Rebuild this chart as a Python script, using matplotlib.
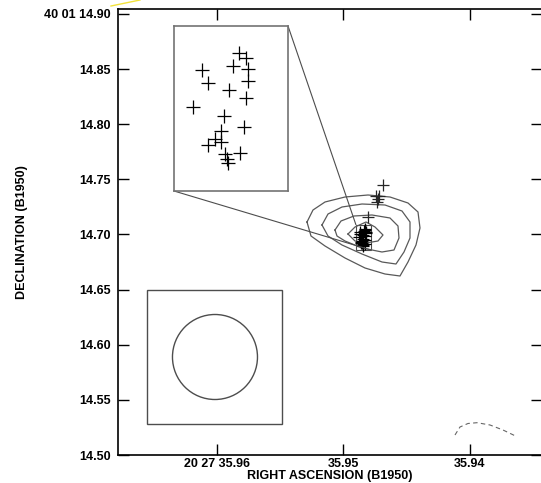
import numpy as np
import matplotlib.pyplot as plt
from matplotlib.patches import Ellipse, Rectangle
from matplotlib.lines import Line2D
from mpl_toolkits.axes_grid1.inset_locator import mark_inset

plt.rcParams['font.family'] = ['Liberation Sans', 'DejaVu Sans']

# maser spots in the central cluster (RA seconds, Dec arcsec, B1950)
spot_ra = [35.948337, 35.948268, 35.948399, 35.948247, 35.948717, 35.948661,
           35.948247, 35.948444, 35.948265, 35.948810, 35.948496, 35.948282,
           35.948520, 35.948586, 35.948523, 35.948655, 35.948330, 35.948479,
           35.948461, 35.948454]
spot_dec = [14.704844, 14.704156, 14.703138, 14.702643, 14.702546, 14.700799,
            14.701033, 14.699795, 14.698735, 14.697497, 14.696218, 14.694746,
            14.694154, 14.693053, 14.692682, 14.692324, 14.691224, 14.690990,
            14.690398, 14.689793]

# spots outside the zoomed box
out_ra = [35.946838, 35.947431, 35.947233, 35.947391, 35.947194, 35.948040]
out_dec = [14.74490, 14.73492, 14.73220, 14.72948, 14.73447, 14.71614]

# continuum contours
c1_ra = [35.952885, 35.952411, 35.951462, 35.949881, 35.948063, 35.946324,
         35.944901, 35.944111, 35.943953, 35.944269, 35.944901, 35.945534,
         35.946719, 35.948300, 35.949881, 35.951462, 35.952569]
c1_dec = [14.71134, 14.72222, 14.72948, 14.73401, 14.73583, 14.73401,
          14.72857, 14.72041, 14.70590, 14.69048, 14.67506, 14.66236,
          14.66417, 14.66962, 14.67869, 14.68957, 14.69864]
c2_ra = [35.951700, 35.951225, 35.950119, 35.948538, 35.946719, 35.945376,
         35.944743, 35.944743, 35.945217, 35.945850, 35.946957, 35.948538,
         35.950119, 35.951225]
c2_dec = [14.70862, 14.71859, 14.72494, 14.72766, 14.72676, 14.72131,
          14.71134, 14.69683, 14.68413, 14.67324, 14.67506, 14.68231,
          14.69048, 14.69864]
c3_ra = [35.950672, 35.950198, 35.949170, 35.947747, 35.946324, 35.945692,
         35.945613, 35.946008, 35.946957, 35.948538, 35.949881, 35.950514]
c3_dec = [14.70408, 14.71224, 14.71678, 14.71769, 14.71497, 14.70771,
          14.69683, 14.68594, 14.68413, 14.68776, 14.69410, 14.69864]
c4_ra = [35.949644, 35.949091, 35.948221, 35.947510, 35.946878, 35.947273,
         35.948221, 35.949091]
c4_dec = [14.70045, 14.70680, 14.71134, 14.70680, 14.69955, 14.69410,
          14.69229, 14.69410]
contours = [(c1_ra, c1_dec), (c2_ra, c2_dec), (c3_ra, c3_dec), (c4_ra, c4_dec)]

# faint dashed arc, lower right
arc_ra = [35.941186, 35.940791, 35.940158, 35.939447, 35.938419, 35.937392, 35.936285]
arc_dec = [14.51815, 14.52540, 14.52858, 14.52930, 14.52722, 14.52268, 14.51660]

# beam: centre, diameters, surrounding box
beam_ra, beam_dec = 35.96016, 14.58889
beam_w, beam_h = 0.00672, 0.0771
box_ra = [35.96553, 35.95486]
box_dec = [14.52812, 14.64966]

# zoom window
zoom_ra = [35.949012, 35.947826]
zoom_dec = [14.68594, 14.70862]

xticks = [35.96, 35.95, 35.94]
xlabels = ['20 27 35.96', '35.95', '35.94']
yticks = [14.50, 14.55, 14.60, 14.65, 14.70, 14.75, 14.80, 14.85, 14.90]
ylabels = ['14.50', '14.55', '14.60', '14.65', '14.70', '14.75', '14.80', '14.85',
           '40 01 14.90']

fig = plt.figure(figsize=(5.41, 4.83), dpi=100)
ax = fig.add_axes([118/541, 28/483, 424/541, 446/483])

for cra, cdec in contours:
    ax.plot(cra + cra[:1], cdec + cdec[:1], color='0.35', lw=0.9)

ax.plot(arc_ra, arc_dec, color='0.4', lw=0.8, ls=(0, (4, 3)))

ax.plot(spot_ra, spot_dec, '+', color='k', ms=8, mew=0.9)
ax.plot(out_ra, out_dec, '+', color='0.15', ms=8, mew=0.9)

ax.add_patch(Rectangle((box_ra[0], box_dec[0]), box_ra[1] - box_ra[0],
                       box_dec[1] - box_dec[0], fc='none', ec='0.3', lw=1))
ax.add_patch(Ellipse((beam_ra, beam_dec), beam_w, beam_h, fc='none', ec='0.3', lw=1))

ax.set_xlim(35.967826, 35.934308)
ax.set_ylim(14.50, 14.90453)
ax.set_xticks(xticks)
ax.set_xticklabels(xlabels)
ax.set_yticks(yticks)
ax.set_yticklabels(ylabels)
ax.tick_params(direction='in', length=8, width=1, top=True, right=True,
               labelsize=9)
ax.tick_params(axis='x', pad=2)
ax.tick_params(axis='y', pad=5)
for lab in ax.get_xticklabels() + ax.get_yticklabels():
    lab.set_fontweight('bold')
for s in ax.spines.values():
    s.set_linewidth(1.2)
ax.set_xlabel('RIGHT ASCENSION (B1950)', fontsize=9, fontweight='bold', labelpad=0)
ax.set_ylabel('DECLINATION (B1950)', fontsize=9, fontweight='bold', labelpad=12)

# magnified view of the cluster
axins = fig.add_axes([174/541, 1 - 191/483, 114/541, 165/483])
axins.plot(spot_ra, spot_dec, '+', color='k', ms=10, mew=0.9)
axins.set_xlim(zoom_ra[0], zoom_ra[1])
axins.set_ylim(zoom_dec[0], zoom_dec[1])
axins.set_xticks([])
axins.set_yticks([])
for s in axins.spines.values():
    s.set_color('0.45')
    s.set_linewidth(1.2)
mark_inset(ax, axins, loc1=1, loc2=3, fc='none', ec='0.3', lw=0.8)

fig.add_artist(Line2D([111/541, 140/541], [1 - 6/483, 1.0], color='#f2e23a', lw=1,
                      transform=fig.transFigure))

fig.savefig('out.png', dpi=100)
